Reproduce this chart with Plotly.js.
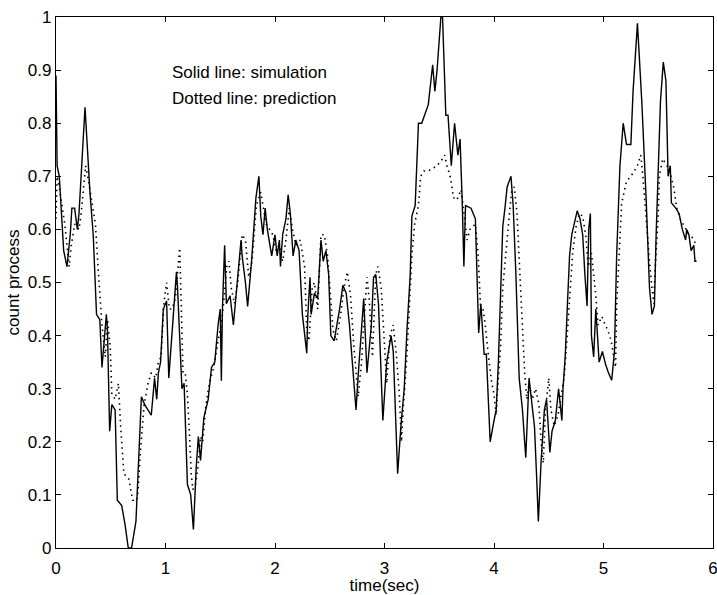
<!DOCTYPE html>
<html>
<head>
<meta charset="utf-8">
<script src="https://cdn.plot.ly/plotly-3.0.1.min.js"></script>
<style>html,body{margin:0;padding:0;background:#fff;}#chart{width:717px;height:595px;}</style>
</head>
<body>
<div id="chart"></div>
<script>
// Solid line: simulation
const simTime = [0.00,0.01,0.03,0.05,0.07,0.10,0.13,0.145,0.17,0.195,0.21,0.265,0.29,0.31,0.34,0.36,0.37,0.40,0.42,0.46,0.47,0.49,0.51,0.54,0.56,0.60,0.63,0.66,0.69,0.73,0.78,0.81,0.87,0.90,0.92,0.935,0.955,0.98,1.01,1.03,1.06,1.08,1.10,1.11,1.13,1.15,1.17,1.20,1.23,1.255,1.28,1.30,1.32,1.35,1.39,1.42,1.45,1.48,1.50,1.51,1.52,1.54,1.556,1.59,1.62,1.65,1.69,1.70,1.73,1.75,1.786,1.826,1.853,1.87,1.89,1.91,1.93,1.97,2.00,2.02,2.04,2.05,2.07,2.10,2.12,2.14,2.165,2.19,2.22,2.25,2.29,2.30,2.32,2.33,2.36,2.39,2.42,2.44,2.465,2.49,2.51,2.54,2.59,2.62,2.65,2.68,2.71,2.74,2.76,2.79,2.81,2.84,2.88,2.90,2.92,2.945,2.985,3.02,3.06,3.08,3.12,3.15,3.18,3.205,3.235,3.25,3.28,3.31,3.34,3.40,3.44,3.46,3.48,3.515,3.53,3.56,3.58,3.61,3.64,3.67,3.69,3.71,3.725,3.74,3.79,3.83,3.86,3.88,3.91,3.93,3.965,4.00,4.02,4.04,4.06,4.08,4.10,4.12,4.155,4.175,4.20,4.23,4.26,4.29,4.32,4.34,4.37,4.39,4.405,4.43,4.46,4.48,4.51,4.53,4.56,4.59,4.62,4.63,4.65,4.67,4.69,4.71,4.74,4.76,4.785,4.81,4.83,4.85,4.865,4.88,4.89,4.91,4.93,4.96,4.99,5.02,5.045,5.075,5.10,5.12,5.15,5.18,5.21,5.25,5.27,5.31,5.35,5.37,5.39,5.42,5.443,5.465,5.48,5.52,5.546,5.57,5.59,5.61,5.62,5.66,5.69,5.72,5.75,5.76,5.78,5.80,5.825,5.835,5.85];
const simCount = [0.89,0.72,0.70,0.63,0.56,0.53,0.59,0.64,0.64,0.60,0.63,0.83,0.73,0.67,0.59,0.48,0.44,0.43,0.34,0.44,0.41,0.22,0.27,0.26,0.09,0.08,0.045,0.0,0.0,0.05,0.285,0.27,0.25,0.32,0.28,0.33,0.35,0.45,0.465,0.32,0.40,0.47,0.52,0.49,0.39,0.30,0.31,0.12,0.10,0.035,0.15,0.21,0.165,0.245,0.28,0.34,0.35,0.42,0.45,0.315,0.45,0.57,0.46,0.475,0.42,0.49,0.58,0.55,0.50,0.455,0.54,0.66,0.70,0.625,0.59,0.64,0.60,0.55,0.59,0.55,0.58,0.53,0.59,0.62,0.665,0.63,0.55,0.58,0.56,0.44,0.367,0.44,0.51,0.44,0.48,0.47,0.58,0.54,0.56,0.515,0.40,0.39,0.45,0.495,0.48,0.42,0.33,0.26,0.326,0.42,0.47,0.33,0.42,0.51,0.515,0.46,0.24,0.35,0.40,0.37,0.14,0.23,0.30,0.41,0.515,0.625,0.645,0.80,0.80,0.835,0.91,0.86,0.90,1.0,1.0,0.815,0.815,0.72,0.80,0.74,0.77,0.65,0.53,0.645,0.64,0.62,0.405,0.46,0.365,0.365,0.20,0.24,0.26,0.35,0.49,0.605,0.64,0.68,0.70,0.645,0.515,0.32,0.26,0.17,0.32,0.287,0.228,0.13,0.05,0.163,0.26,0.28,0.18,0.22,0.24,0.30,0.24,0.30,0.36,0.456,0.55,0.59,0.62,0.635,0.62,0.59,0.515,0.456,0.60,0.63,0.40,0.36,0.45,0.35,0.37,0.345,0.33,0.316,0.37,0.55,0.72,0.80,0.76,0.76,0.86,0.988,0.84,0.75,0.655,0.49,0.44,0.456,0.585,0.84,0.915,0.88,0.70,0.72,0.65,0.64,0.63,0.60,0.58,0.60,0.59,0.56,0.57,0.54,0.54];

// Dotted line: prediction
const predTime = [0.00,0.01,0.03,0.08,0.12,0.14,0.17,0.21,0.23,0.27,0.29,0.32,0.36,0.39,0.42,0.45,0.47,0.495,0.51,0.54,0.57,0.59,0.62,0.665,0.70,0.74,0.75,0.77,0.805,0.84,0.87,0.91,0.935,0.96,0.985,1.01,1.035,1.06,1.09,1.13,1.145,1.16,1.18,1.20,1.22,1.235,1.25,1.275,1.30,1.32,1.34,1.37,1.40,1.44,1.48,1.51,1.53,1.56,1.58,1.60,1.63,1.66,1.70,1.73,1.76,1.79,1.83,1.87,1.89,1.92,1.95,1.98,2.01,2.04,2.07,2.10,2.13,2.16,2.19,2.23,2.27,2.29,2.31,2.34,2.36,2.39,2.42,2.45,2.48,2.53,2.56,2.60,2.63,2.66,2.69,2.72,2.76,2.79,2.81,2.84,2.86,2.89,2.92,2.94,2.97,3.00,3.02,3.05,3.08,3.11,3.135,3.155,3.17,3.205,3.235,3.25,3.275,3.31,3.33,3.36,3.40,3.44,3.48,3.52,3.55,3.57,3.60,3.63,3.66,3.70,3.73,3.755,3.78,3.83,3.856,3.88,3.90,3.92,3.95,3.98,4.00,4.02,4.03,4.06,4.08,4.11,4.13,4.16,4.185,4.21,4.23,4.255,4.28,4.30,4.32,4.35,4.38,4.41,4.43,4.45,4.47,4.50,4.52,4.55,4.585,4.615,4.64,4.655,4.68,4.70,4.72,4.75,4.78,4.81,4.84,4.86,4.89,4.91,4.93,4.95,4.985,5.015,5.04,5.07,5.11,5.12,5.14,5.166,5.21,5.27,5.31,5.34,5.36,5.38,5.40,5.42,5.44,5.46,5.47,5.50,5.51,5.54,5.58,5.61,5.64,5.67,5.70,5.75,5.78,5.81,5.85];
const predCount = [0.62,0.70,0.68,0.61,0.53,0.57,0.61,0.60,0.63,0.72,0.70,0.66,0.61,0.51,0.42,0.36,0.43,0.38,0.29,0.28,0.31,0.23,0.14,0.13,0.09,0.09,0.11,0.18,0.27,0.31,0.33,0.32,0.35,0.36,0.46,0.50,0.45,0.45,0.47,0.565,0.42,0.33,0.33,0.29,0.21,0.14,0.11,0.12,0.16,0.21,0.20,0.27,0.31,0.34,0.39,0.42,0.46,0.53,0.54,0.49,0.46,0.50,0.59,0.58,0.51,0.54,0.645,0.67,0.645,0.61,0.60,0.59,0.56,0.57,0.54,0.58,0.64,0.60,0.57,0.58,0.53,0.41,0.39,0.49,0.50,0.45,0.59,0.59,0.55,0.41,0.39,0.44,0.49,0.52,0.475,0.38,0.285,0.35,0.42,0.51,0.47,0.36,0.515,0.53,0.49,0.39,0.31,0.40,0.42,0.36,0.29,0.20,0.26,0.365,0.475,0.55,0.61,0.645,0.70,0.71,0.71,0.715,0.72,0.73,0.74,0.72,0.70,0.66,0.655,0.675,0.62,0.58,0.60,0.61,0.55,0.44,0.45,0.42,0.36,0.31,0.29,0.25,0.29,0.38,0.49,0.57,0.605,0.67,0.68,0.63,0.55,0.43,0.33,0.28,0.31,0.28,0.30,0.27,0.20,0.16,0.26,0.32,0.26,0.23,0.25,0.29,0.32,0.36,0.436,0.51,0.56,0.605,0.63,0.625,0.585,0.53,0.555,0.515,0.475,0.42,0.436,0.42,0.41,0.39,0.34,0.456,0.55,0.65,0.69,0.706,0.72,0.74,0.70,0.645,0.585,0.54,0.495,0.46,0.52,0.625,0.70,0.733,0.72,0.705,0.68,0.64,0.62,0.60,0.59,0.585,0.57];

const xTicks = [0,1,2,3,4,5,6];
const yTicks = [0,0.1,0.2,0.3,0.4,0.5,0.6,0.7,0.8,0.9,1];
const notes = ["Solid line: simulation", "Dotted line: prediction"];

const fam = "Liberation Sans, Arial, sans-serif";

const traces = [
  {x: simTime, y: simCount, mode: "lines", line: {color: "#000", width: 1.4}, name: "simulation", hoverinfo: "skip"},
  {x: predTime, y: predCount, mode: "lines", line: {color: "#000", width: 1.6, dash: "1.5px,4px"}, name: "prediction", hoverinfo: "skip"}
];

const axisBase = {
  showgrid: false, zeroline: false, showline: true, linecolor: "#000", linewidth: 1.2,
  mirror: "ticks", ticks: "inside", ticklen: 5, tickcolor: "#000", tickwidth: 1,
  tickfont: {family: fam, size: 17, color: "#000"}, tickmode: "array",
  ticklabeloverflow: "allow", automargin: false
};

const layout = {
  width: 717, height: 595,
  margin: {l: 56, r: 4, t: 17, b: 47},
  paper_bgcolor: "#fff", plot_bgcolor: "#fff",
  showlegend: false,
  font: {family: fam, size: 17, color: "#000"},
  xaxis: Object.assign({}, axisBase, {
    range: [0, 6], tickvals: xTicks, ticktext: xTicks.map(String),
    ticklabelstandoff: 4,
    title: {text: "time(sec)", font: {family: fam, size: 17, color: "#000"}, standoff: 2}
  }),
  yaxis: Object.assign({}, axisBase, {
    range: [0, 1], tickvals: yTicks, ticktext: yTicks.map(String),
    ticklabelstandoff: 0,
    title: {text: "count process", font: {family: fam, size: 17, color: "#000"}, standoff: 3}
  }),
  annotations: notes.map((t, i) => ({
    text: t, xref: "x", yref: "paper", x: 1.04, y: 0.896 - i * 0.049,
    xanchor: "left", yanchor: "middle", showarrow: false,
    font: {family: fam, size: 17, color: "#000"}
  }))
};

Plotly.newPlot("chart", traces, layout, {displayModeBar: false, staticPlot: true});
</script>
</body>
</html>
